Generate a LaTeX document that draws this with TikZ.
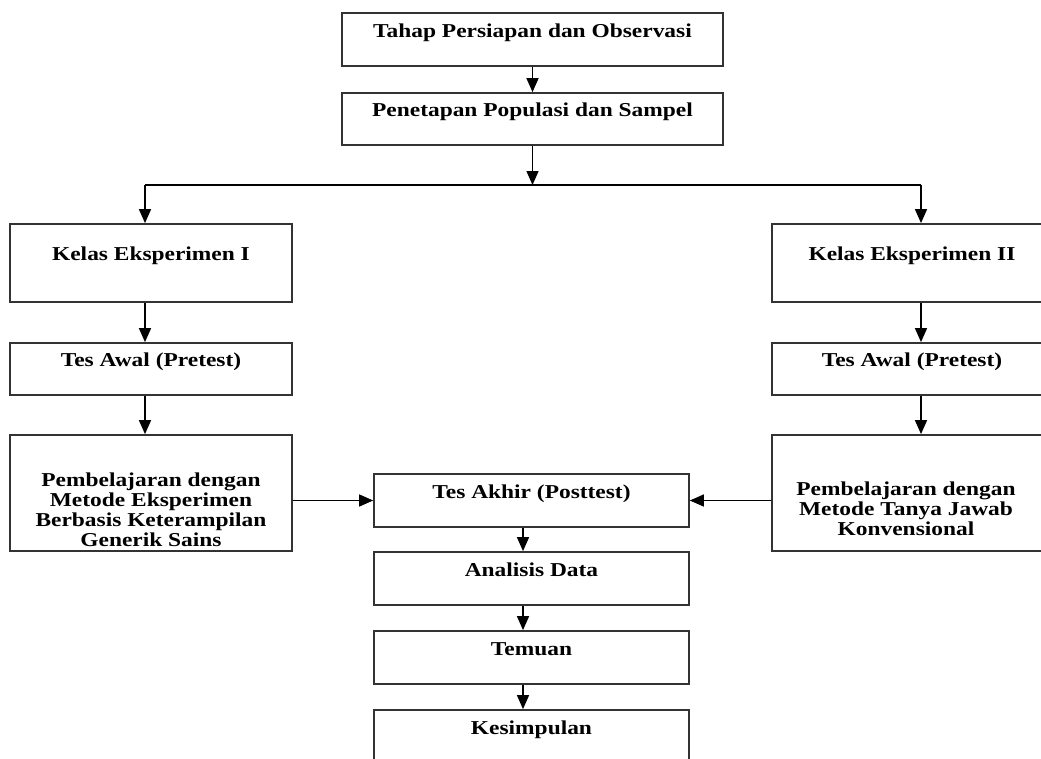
\documentclass[tikz,border=0pt]{standalone}
\usepackage{fontspec}
\setmainfont{Liberation Serif}[FakeStretch=1.19]
\usetikzlibrary{positioning,arrows.meta}
\tikzset{
  box/.style={draw=black!80, line width=1pt, align=center, inner sep=2pt,
    font=\fontsize{11.2}{11.3}\selectfont\bfseries},
  onerow/.style={box, text height=8pt, text depth=10.8pt},
  txt/.style={align=center, inner sep=0pt, font=\fontsize{11.2}{11.3}\selectfont\bfseries},
  conn/.style={line width=0.8pt, -{Triangle[length=0.28cm,width=0.24cm]}},
  plain/.style={line width=0.8pt}
}

\begin{document}
\begin{tikzpicture}[x=0.02cm, y=-0.02cm]
  \useasboundingbox (0,0) rectangle (1041,758);
  \clip (0,0) rectangle (1041,758);
  % middle column, top
  \node[onerow, minimum width=7.62cm, minimum height=1.06cm] (tahap) at (532.5,39.5) {Tahap Persiapan dan Observasi};
  \node[onerow, minimum width=7.62cm, minimum height=1.04cm] (sampel) at (532.5,119) {Penetapan Populasi dan Sampel};
  % left column
  \node[onerow, minimum width=5.64cm, minimum height=1.56cm] (kelasA) at (151,263) {Kelas Eksperimen I};
  \node[onerow, minimum width=5.64cm, minimum height=1.04cm] (preA) at (151,369) {Tes Awal (Pretest)};
  \node[box, minimum width=5.64cm, minimum height=2.32cm] (ajarA) at (151,493) {};
  \node[txt] (ajarAtext) at (151,509.5) {Pembelajaran dengan\\Metode Eksperimen\\Berbasis Keterampilan\\Generik Sains};
  % right column (runs past the edge)
  \node[onerow, minimum width=5.6cm, minimum height=1.56cm] (kelasB) at (912,263) {Kelas Eksperimen II};
  \node[onerow, minimum width=5.6cm, minimum height=1.04cm] (preB) at (912,369) {Tes Awal (Pretest)};
  \node[box, minimum width=5.6cm, minimum height=2.32cm] (ajarB) at (912,493) {};
  \node[txt] (ajarBtext) at (906,509) {Pembelajaran dengan\\Metode Tanya Jawab\\Konvensional};
  % middle column, bottom
  \node[onerow, minimum width=6.3cm, minimum height=1.06cm] (post) at (531.5,500.5) {Tes Akhir (Posttest)};
  \node[onerow, minimum width=6.3cm, minimum height=1.06cm] (analisis) at (531.5,578.5) {Analisis Data};
  \node[onerow, minimum width=6.3cm, minimum height=1.06cm] (temuan) at (531.5,657.5) {Temuan};
  \node[onerow, minimum width=6.3cm, minimum height=1.06cm] (simpul) at (531.5,736.5) {Kesimpulan};

  % split into the two classes
  \coordinate (split) at (532.5,185);
  \coordinate (toA) at (145,185);
  \coordinate (toB) at (921,185);
  \draw[conn] (tahap) -- (sampel);
  \draw[conn] (sampel) -- (split);
  \draw[plain] (toA) -- (toB);
  \draw[conn] (toA) -- (toA |- kelasA.north);
  \draw[conn] (toB) -- (toB |- kelasB.north);
  \draw[conn] (kelasA.south -| toA) -- (preA.north -| toA);
  \draw[conn] (preA.south -| toA) -- (ajarA.north -| toA);
  \draw[conn] (kelasB.south -| toB) -- (preB.north -| toB);
  \draw[conn] (preB.south -| toB) -- (ajarB.north -| toB);
  \draw[conn] (ajarA.east |- post) -- (post.west);
  \draw[conn] (ajarB.west |- post) -- (post.east);
  \foreach \a/\b in {post/analisis,analisis/temuan,temuan/simpul}
    \draw[conn] ([xshift=-0.17cm]\a.south) -- ([xshift=-0.17cm]\b.north);
\end{tikzpicture}
\end{document}
